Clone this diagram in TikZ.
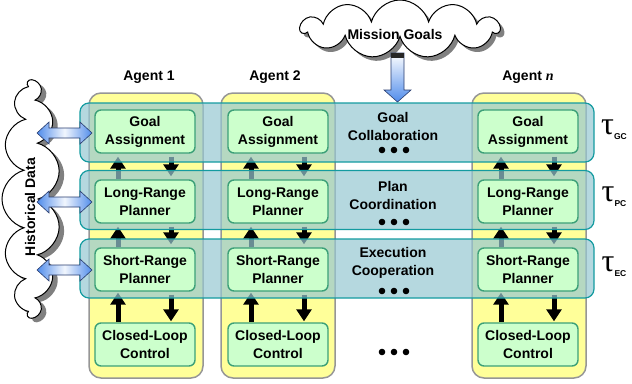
\documentclass[tikz,border=0pt]{standalone}
\usepackage{fontspec}
\setmainfont{Liberation Sans}
\newfontfamily\seriff{Liberation Serif}
\usetikzlibrary{shapes.symbols,arrows.meta}
\definecolor{colyellow}{RGB}{255,255,153}
\definecolor{colgrey}{RGB}{150,150,150}
\definecolor{bandfill}{RGB}{150,200,210}
\definecolor{bandedge}{RGB}{20,155,160}
\definecolor{boxfill}{RGB}{204,255,204}
\definecolor{boxedge}{RGB}{60,160,120}
\definecolor{arrowblue}{RGB}{80,140,235}
\definecolor{arrowedge}{RGB}{40,60,110}
\newcommand{\histarrow}[1]{%
  \shade[left color=arrowblue, right color=arrowblue, middle color=white!92!arrowblue, draw=arrowedge, line width=0.6pt]
  (37,#1) -- (49,{#1-11}) -- (49,{#1-5}) -- (80,{#1-5}) -- (80,{#1-11}) -- (92,#1)
  -- (80,{#1+11}) -- (80,{#1+5}) -- (49,{#1+5}) -- (49,{#1+11}) -- cycle;}
\newcommand{\taulabel}[1]{{\seriff\mdseries\upshape\fontsize{32}{32}\selectfont τ}\raisebox{-5pt}{\fontsize{8.5}{8.5}\selectfont\bfseries #1}}
\begin{document}
\begin{tikzpicture}[x=1pt,y=-1pt,
  every node/.style={font=\fontsize{14}{18}\selectfont\bfseries},
  colbox/.style={draw=colgrey, line width=1.5pt, fill=colyellow, rounded corners=12pt, minimum width=114pt, minimum height=285pt, inner sep=0pt},
  band/.style={draw=bandedge, line width=1.2pt, fill=bandfill, fill opacity=0.7, rounded corners=9pt, minimum width=514pt, minimum height=59pt, inner sep=0pt},
  agbox/.style={draw=boxedge, line width=1.4pt, fill=boxfill, rounded corners=6pt, minimum width=100pt, minimum height=43pt, align=center, inner sep=0pt},
  varrow/.style={line width=5pt, -{Triangle[width=15pt,length=12pt]}},
  cloudshape/.style={cloud, cloud ignores aspect, line width=1pt, inner sep=0pt},
  bandtext/.style={align=center},
]
\useasboundingbox (0,0) rectangle (632,383);

% Historical data cloud
\node[cloudshape, cloud puffs=13, minimum width=236pt, minimum height=58pt, rotate=90, fill=black!50] (histsh) at (36,203) {};
\node[cloudshape, cloud puffs=13, minimum width=236pt, minimum height=58pt, rotate=90, draw, fill=white] (hist) at (31,199) {};
\node[rotate=90] (histtext) at (30,207) {Historical Data};

% Mission goals cloud
\node[cloudshape, cloud puffs=11, minimum width=198pt, minimum height=58pt, fill=black!50] (missionsh) at (404,33) {};
\node[cloudshape, cloud puffs=11, minimum width=198pt, minimum height=58pt, draw, fill=white] (mission) at (400,29) {};
\node (missiontext) at (395,34) {Mission Goals};

% agent columns
\node[colbox] (col1) at (146,235.5) {};
\node[colbox] (col2) at (278,235.5) {};
\node[colbox] (coln) at (529,235.5) {};

% agent boxes (placed first for names, drawn later)
\foreach \i/\cx in {1/145,2/278,n/528}{
  \path (\cx,131.5) node[agbox, draw=none, fill=none] (ga\i) {}
        (\cx,201.5) node[agbox, draw=none, fill=none] (lr\i) {}
        (\cx,269.5) node[agbox, draw=none, fill=none] (sr\i) {}
        (\cx,344.5) node[agbox, draw=none, fill=none] (cl\i) {};
  \draw[varrow, shorten >=3pt] ([xshift=-27pt]lr\i.north) -- ([xshift=-27pt]ga\i.south);
  \draw[varrow, shorten <=3pt, shorten >=3pt] ([xshift=26pt]ga\i.south) -- ([xshift=26pt]lr\i.north);
  \draw[varrow, shorten >=3pt] ([xshift=-27pt]sr\i.north) -- ([xshift=-27pt]lr\i.south);
  \draw[varrow, shorten <=3pt, shorten >=3pt] ([xshift=26pt]lr\i.south) -- ([xshift=26pt]sr\i.north);
  \draw[varrow, shorten >=1pt] ([xshift=-27pt]cl\i.north) -- ([xshift=-27pt]sr\i.south);
  \draw[varrow, shorten <=3pt, shorten >=1pt] ([xshift=26pt]sr\i.south) -- ([xshift=26pt]cl\i.north);
}

% coordination bands
\node[band] (band1) at (337,132.5) {};
\node[band] (band2) at (337,200) {};
\node[band] (band3) at (337,268.5) {};

% agent boxes
\foreach \i/\cx in {1/145,2/278,n/528}{
  \node[agbox] at (ga\i) {Goal\\Assignment};
  \node[agbox] at (lr\i) {Long-Range\\Planner};
  \node[agbox] at (sr\i) {Short-Range\\Planner};
  \node[agbox] at (cl\i) {Closed-Loop\\Control};
}

% band texts
\node[bandtext] (t1) at (393,126) {Goal\\Collaboration};
\node[bandtext] (t2) at (393,195) {Plan\\Coordination};
\node[bandtext] (t3) at (393,263) {Execution\\Cooperation};
\foreach \yy in {150,222,291,352}{
  \foreach \dx in {-12,0,12}{
    \fill (394+\dx,\yy) circle (3.3pt);
  }
}

% agent labels
\node (a1) at (149,77) {Agent 1};
\node (a2) at (275,77) {Agent 2};
\node (an) at (528,77) {Agent {\seriff\bfseries\itshape n}};

% historical data arrows
\histarrow{133}
\histarrow{202}
\histarrow{270}

% mission goals arrow
\shade[top color=white, bottom color=arrowblue, draw=arrowedge, line width=0.6pt]
  (391,53) -- (404,53) -- (404,90) -- (411,90) -- (397.5,102) -- (384,90) -- (391,90) -- cycle;
\fill[black!85] (391,53) rectangle (404,58);

% time constants
\node (tgc) at (614,130) {\taulabel{GC}};
\node (tpc) at (614,197) {\taulabel{PC}};
\node (tec) at (614,267) {\taulabel{EC}};
\end{tikzpicture}
\end{document}
